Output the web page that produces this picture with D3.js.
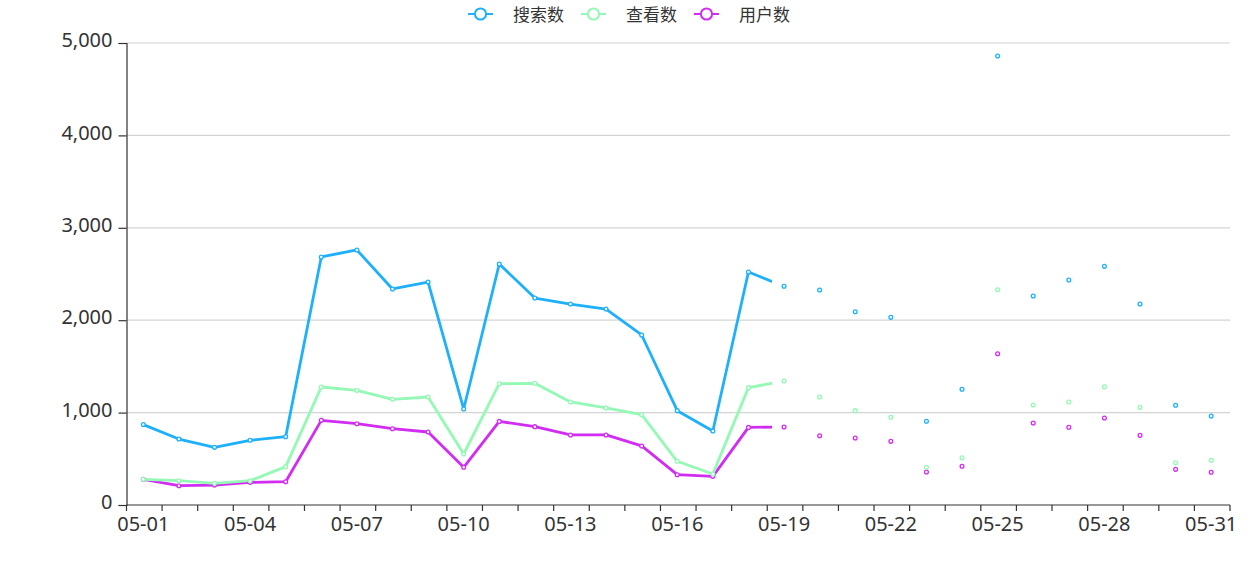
<!DOCTYPE html>
<html><head><meta charset="utf-8">
<script src="https://cdn.jsdelivr.net/npm/d3@7"></script>
<style>
html,body{margin:0;padding:0;background:#fff;}
svg{display:block;font-family:"Noto Sans","Noto Sans CJK SC",sans-serif;}
</style></head>
<body><svg id="chart" width="1260" height="561"></svg>
<script>
const categories = ["05-01","05-02","05-03","05-04","05-05","05-06","05-07","05-08","05-09","05-10",
"05-11","05-12","05-13","05-14","05-15","05-16","05-17","05-18","05-19","05-20",
"05-21","05-22","05-23","05-24","05-25","05-26","05-27","05-28","05-29","05-30","05-31"];
const searchCounts = [870,714,624,700,739,2684,2760,2338,2413,1039,2608,2240,2175,2121,1840,1021,801,2522,2367,2327,2092,2031,906,1252,4859,2262,2435,2583,2175,1079,963];
const viewCounts = [278,263,235,263,415,1277,1241,1144,1169,552,1313,1317,1115,1050,977,473,335,1270,1342,1169,1021,949,408,512,2330,1082,1115,1280,1057,458,484];
const userCounts = [278,209,216,245,252,916,880,826,790,408,905,848,758,758,639,328,310,840,844,750,725,689,357,419,1637,887,841,942,754,386,354];
const seriesNames = ["搜索数","查看数","用户数"];
const seriesColors = ["#1eb0fb","#93f9b4","#d22cf3"];
const yTicks = [0,1000,2000,3000,4000,5000];
const lineRevealFraction = 0.585; // lines captured part-way through their draw

const series = [searchCounts, viewCounts, userCounts].map((v,i)=>({name:seriesNames[i], color:seriesColors[i], values:v}));

const svg = d3.select("#chart");
const margin = {left:126.5, right:30, top:43, bottom:56};
const W = 1260, H = 561;
const x = d3.scaleBand().domain(categories).range([margin.left, W - margin.right]);
const y = d3.scaleLinear().domain([0,5000]).range([H - margin.bottom, margin.top]);
const cx = d => x(d) + x.bandwidth()/2 - 1;

// grid lines
svg.append("g").selectAll("line").data(yTicks.filter(t=>t>0)).join("line")
  .attr("x1", margin.left).attr("x2", W - margin.right)
  .attr("y1", d=>y(d)).attr("y2", d=>y(d))
  .attr("stroke", "#d4d4d4").attr("stroke-width", 1.2);

// y axis
const yAxis = svg.append("g").attr("transform", `translate(${margin.left},0)`)
  .call(d3.axisLeft(y).tickValues(yTicks).tickFormat(d3.format(",")).tickSize(8).tickPadding(6));
yAxis.select(".domain").attr("stroke","#333").attr("stroke-width",1.2);
yAxis.selectAll(".tick line").attr("stroke","#333").attr("stroke-width",1.2);
yAxis.selectAll(".tick text").attr("fill","#333").attr("font-size",20).attr("dy","0.18em")
  .attr("font-family","'Noto Sans',sans-serif");

// x axis (ticks at category boundaries, labels at centers every 3rd)
const xg = svg.append("g");
const boundaries = d3.range(categories.length + 1).map(i => margin.left + i * x.step());
xg.append("line").attr("x1", margin.left).attr("x2", W - margin.right)
  .attr("y1", y(0)).attr("y2", y(0)).attr("stroke","#333").attr("stroke-width",1.2);
xg.selectAll("line.tk").data(boundaries).join("line").attr("class","tk")
  .attr("x1", d=>d).attr("x2", d=>d).attr("y1", y(0)).attr("y2", y(0)+6)
  .attr("stroke","#333").attr("stroke-width",1.2);
xg.selectAll("text").data(categories.filter((c,i)=>i%3===0)).join("text")
  .attr("x", d=>cx(d)).attr("y", y(0)+26).attr("text-anchor","middle")
  .attr("fill","#333").attr("font-size",20).text(d=>d);

// clip for partially drawn lines
const revealX = margin.left + (W - margin.right - margin.left) * lineRevealFraction;
svg.append("clipPath").attr("id","reveal").append("rect")
  .attr("x", 0).attr("y", 0).attr("width", revealX).attr("height", H);

const line = d3.line().x((d,i)=>cx(categories[i])).y(d=>y(d));
const lines = svg.append("g").attr("clip-path","url(#reveal)");
series.slice().reverse().forEach(s=>{
  lines.append("path").attr("d", line(s.values)).attr("fill","none")
    .attr("stroke", s.color).attr("stroke-width", 2.8).attr("stroke-linejoin","round");
});
series.slice().reverse().forEach(s=>{
  svg.append("g").selectAll("circle").data(s.values).join("circle")
    .attr("cx", (d,i)=>cx(categories[i])).attr("cy", d=>y(d)).attr("r", 1.9)
    .attr("fill","#fff").attr("stroke", s.color).attr("stroke-width", 1.3);
});

// legend
const legendX = [468, 581, 694];
const lg = svg.append("g");
series.forEach((s,i)=>{
  const g = lg.append("g").attr("transform", `translate(${legendX[i]},14)`);
  g.append("line").attr("x1",0).attr("x2",25).attr("y1",0).attr("y2",0)
    .attr("stroke", s.color).attr("stroke-width",2);
  g.append("circle").attr("cx",12.5).attr("cy",0).attr("r",5.6)
    .attr("fill","#fff").attr("stroke", s.color).attr("stroke-width",2);
  g.append("text").attr("x",45).attr("y",6.5).attr("font-size",17)
    .attr("font-family","'Noto Sans CJK SC',sans-serif").attr("fill","#333").text(s.name);
});
</script></body></html>
